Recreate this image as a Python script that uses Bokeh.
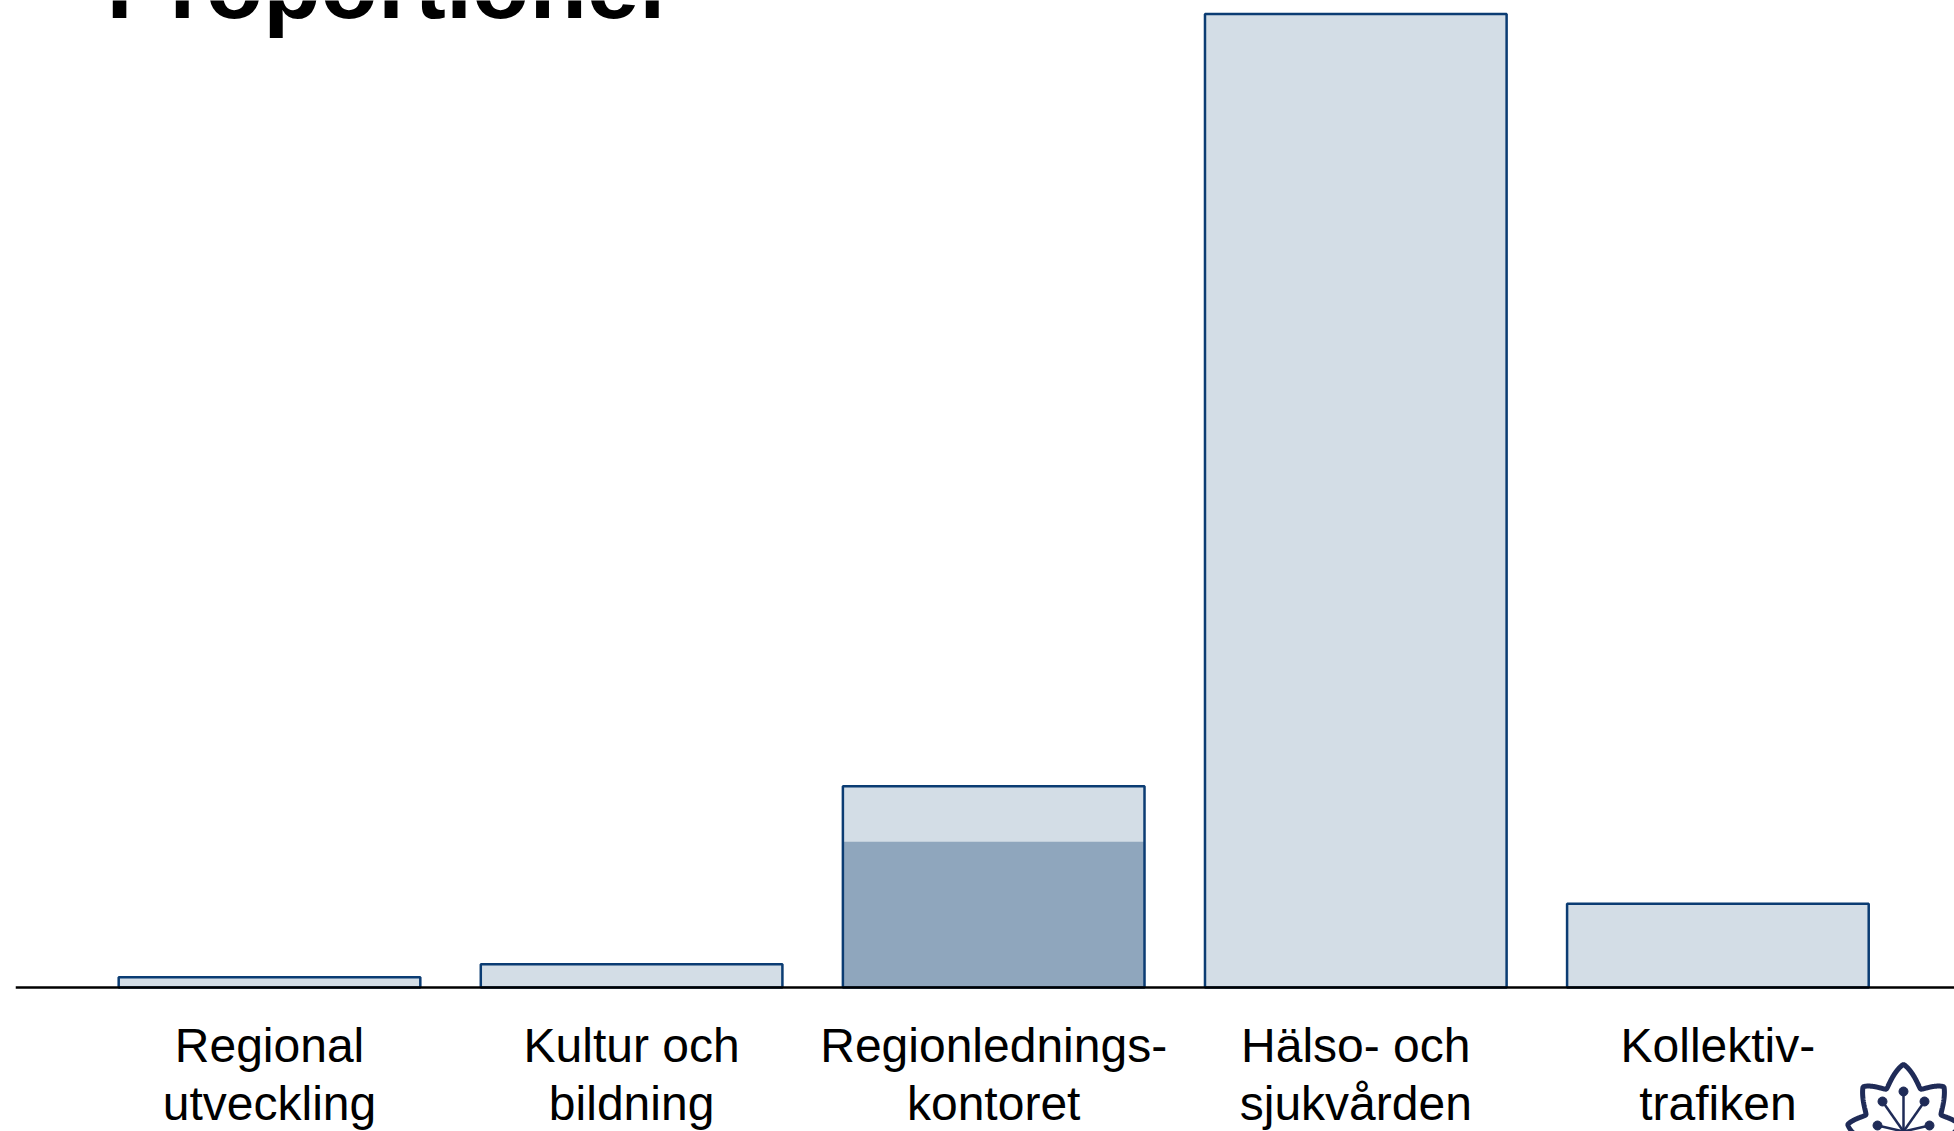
import numpy as np
from bokeh.plotting import figure
from bokeh.models import Range1d, Span, Label, ColumnDataSource
from bokeh.core.properties import value
from bokeh.embed import file_html
from bokeh.resources import INLINE

# ---- data ----
title = "Proportioner"
categories = ["Regional\nutveckling", "Kultur och\nbildning", "Regionlednings-\nkontoret",
              "Hälso- och\nsjukvården", "Kollektiv-\ntrafiken"]
totals = [0.8, 1.8, 15.6, 75.5, 6.5]          # share (%), light bars
inner = [0.0, 0.0, 11.3, 0.0, 0.0]            # darker inner part (%)

# ---- styling / layout ----
W, H = 1954, 1131
LEFT = 15
PX_PER_X = 362.1
PX_PER_Y = 12.894
BASE_CY = 987          # canvas y of the baseline
X0_OFF = 254.0         # px from frame left to first category centre

x_start = -X0_OFF / PX_PER_X
x_end = x_start + (W - LEFT) / PX_PER_X
y_end = BASE_CY / PX_PER_Y
y_start = -(H - BASE_CY) / PX_PER_Y

def to_data(px, py):
    return (px - LEFT) / PX_PER_X + x_start, (BASE_CY - py) / PX_PER_Y

LIGHT = "#D3DDE6"
DARK = "#8FA6BD"
EDGE = "#0B3C73"
NAVY = "#1F2B57"

p = figure(width=W, height=H, x_range=Range1d(x_start, x_end), y_range=Range1d(y_start, y_end),
           output_backend="svg", toolbar_location=None, min_border=0, min_border_left=LEFT)
p.axis.visible = False
p.grid.visible = False
p.outline_line_color = None
p.background_fill_color = "white"
p.border_fill_color = "white"

xs = list(range(len(categories)))
src = ColumnDataSource(dict(x=xs, total=totals, inner=inner))
BW = 0.833
p.vbar(x="x", top="total", bottom=0, width=BW, source=src, fill_color=LIGHT, line_color=None)
p.vbar(x="x", top="inner", bottom=0, width=BW, source=src, fill_color=DARK, line_color=None)
p.vbar(x="x", top="total", bottom=0, width=BW, source=src, fill_color=None,
       line_color=EDGE, line_width=2.5)

p.add_layout(Span(location=0, dimension="width", line_color="black", line_width=2.5))

# category labels (two lines each)
LBL_FS = 48
shift = 0.379 * LBL_FS
l1 = [c.split("\n")[0] for c in categories]
l2 = [c.split("\n")[1] for c in categories]
y1 = -(1063 - shift - 987) / PX_PER_Y
y2 = -(1121 - shift - 987) / PX_PER_Y
for lines, yy in ((l1, y1), (l2, y2)):
    p.text(x=xs, y=[yy] * len(xs), text=lines, text_font=value("Liberation Sans"),
           text_font_size=f"{LBL_FS}px", text_align="center", text_baseline="alphabetic",
           text_color="black")

# title (partly cut at the top of the page)
TFS = 94
tx, ty = to_data(106, 21 - 0.379 * TFS)
p.add_layout(Label(x=tx, y=ty, text=title, text_font="Liberation Sans", text_font_style="bold",
                   text_font_size=f"{TFS}px", text_color="black", text_baseline="alphabetic"))

# logo (flower outline, bottom right)
cxp, cyp = 1903, 1140
th = np.linspace(0, 2 * np.pi, 1441)
period = 37.0
phi = ((np.degrees(th) - 90 + period / 2) % period - period / 2) / period   # -0.5..0.5
a_env, b_env = 57.0, 76.0
env = 1 / np.sqrt((np.cos(th) / a_env) ** 2 + (np.sin(th) / b_env) ** 2)
lobe = np.clip(1 - (2 * np.abs(phi)) ** 1.2, 0, 1) ** 1.3
r = env * (0.74 + 0.26 * lobe)
px = cxp + r * np.cos(th)
py = cyp - r * np.sin(th)
lx, ly = zip(*[to_data(a, b) for a, b in zip(px, py)])
p.line(list(lx), list(ly), line_color=NAVY, line_width=5)
hub = (1903, 1131)
dot_px = [(0, -40), (-21, -30), (21, -30), (-26, -6), (26, -6), (-15, 20), (15, 20)]
c0 = to_data(*hub)
dots = [to_data(hub[0] + dx, hub[1] + dy) for dx, dy in dot_px]
p.segment(x0=[c0[0]] * len(dots), y0=[c0[1]] * len(dots), x1=[d[0] for d in dots],
          y1=[d[1] for d in dots], line_color=NAVY, line_width=2.5)
p.scatter(x=[d[0] for d in dots[:5]], y=[d[1] for d in dots[:5]], size=9, color=NAVY)

open("out.html", "w").write(file_html(p, INLINE))
